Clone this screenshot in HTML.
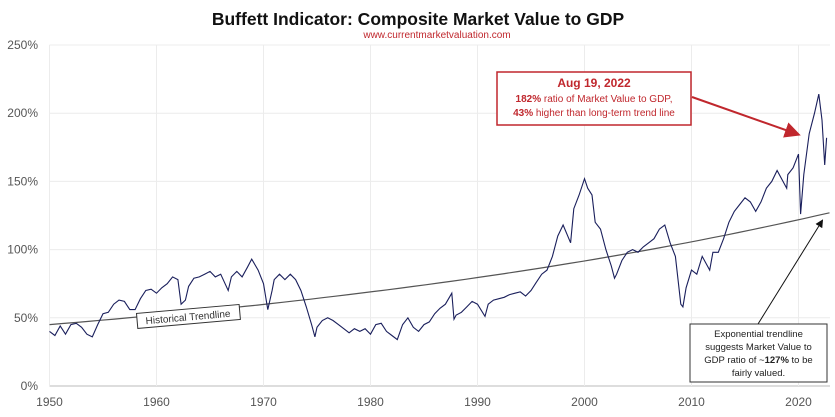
<!DOCTYPE html>
<html><head><meta charset="utf-8"><style>
html,body{margin:0;padding:0;background:#fff;}
svg{display:block;font-family:"Liberation Sans",sans-serif;}
</style></head><body>
<svg id="chart" width="835" height="417" viewBox="0 0 835 417">
<defs>
<marker id="ar" markerWidth="8" markerHeight="8" refX="6" refY="4" orient="auto"><path d="M0,0L8,4L0,8z" fill="#c0272d"/></marker>
<marker id="ak" markerWidth="8" markerHeight="8" refX="6" refY="4" orient="auto"><path d="M0,0L8,4L0,8z" fill="#111"/></marker>
</defs>
<text x="418" y="25" text-anchor="middle" font-size="17.5" font-weight="bold" fill="#111">Buffett Indicator: Composite Market Value to GDP</text>
<text x="437" y="38" text-anchor="middle" font-size="10" fill="#c0272d">www.currentmarketvaluation.com</text>
<g id="grid"></g>
<g id="axes"></g>
<path id="trend" fill="none" stroke="#555" stroke-width="1.2"/>
<path id="series" fill="none" stroke="#1a1f5c" stroke-width="1.1"/>
<g transform="rotate(-5 188 317)">
<rect x="137" y="309" width="103" height="15" fill="#fff" stroke="#333" stroke-width="1"/>
<text x="188" y="320.5" text-anchor="middle" font-size="10" fill="#333">Historical Trendline</text>
</g>
<g>
<rect x="497" y="72" width="194" height="53" fill="#fff" stroke="#c0272d" stroke-width="1.5"/>
<text x="594" y="87" text-anchor="middle" font-size="12" font-weight="bold" fill="#c0272d">Aug 19, 2022</text>
<text x="594" y="102" text-anchor="middle" font-size="10" fill="#c0272d"><tspan font-weight="bold">182%</tspan> ratio of Market Value to GDP,</text>
<text x="594" y="116" text-anchor="middle" font-size="10" fill="#c0272d"><tspan font-weight="bold">43%</tspan> higher than long-term trend line</text>
<line x1="692" y1="97" x2="797" y2="134" stroke="#c0272d" stroke-width="2" marker-end="url(#ar)"/>
</g>
<g>
<line x1="758" y1="324" x2="822" y2="221" stroke="#111" stroke-width="1" marker-end="url(#ak)"/>
<rect x="690" y="324" width="137" height="58" fill="#fff" stroke="#333" stroke-width="1"/>
<text x="758.5" y="337" text-anchor="middle" font-size="9.5" fill="#222">Exponential trendline</text>
<text x="758.5" y="350" text-anchor="middle" font-size="9.5" fill="#222">suggests Market Value to</text>
<text x="758.5" y="363" text-anchor="middle" font-size="9.5" fill="#222">GDP ratio of ~<tspan font-weight="bold">127%</tspan> to be</text>
<text x="758.5" y="376" text-anchor="middle" font-size="9.5" fill="#222">fairly valued.</text>
</g>
</svg>
<script>
const years=[1950,1950.5,1951,1951.5,1952,1952.5,1953,1953.5,1954,1954.5,1955,1955.5,1956,1956.5,1957,1957.5,1958,1958.5,1959,1959.5,1960,1960.5,1961,1961.5,1962,1962.3,1962.7,1963,1963.5,1964,1964.5,1965,1965.5,1966,1966.7,1967,1967.5,1968,1968.5,1968.9,1969.5,1970,1970.4,1970.8,1971,1971.5,1972,1972.5,1973,1973.5,1974,1974.5,1974.8,1975,1975.5,1976,1976.5,1977,1977.5,1978,1978.5,1979,1979.5,1980,1980.5,1981,1981.5,1982,1982.5,1983,1983.5,1984,1984.5,1985,1985.5,1986,1986.5,1987,1987.6,1987.8,1988,1988.5,1989,1989.5,1990,1990.7,1991,1991.5,1992,1992.5,1993,1993.5,1994,1994.5,1995,1995.5,1996,1996.5,1997,1997.5,1998,1998.7,1999,1999.5,2000,2000.3,2000.7,2001,2001.5,2002,2002.5,2002.8,2003,2003.5,2004,2004.5,2005,2005.5,2006,2006.5,2007,2007.5,2008,2008.5,2009,2009.2,2009.5,2010,2010.5,2011,2011.7,2012,2012.5,2013,2013.5,2014,2014.5,2015,2015.5,2016,2016.5,2017,2017.5,2018,2018.9,2019,2019.5,2020,2020.2,2020.5,2021,2021.5,2021.9,2022.2,2022.45,2022.63];
const ratios=[40,37,44,38,45,46,43,38,36,45,53,54,60,63,62,56,56,64,70,71,68,72,75,80,78,60,63,73,79,80,82,84,80,82,70,80,84,80,87,93,85,75,56,70,78,82,78,82,78,70,58,45,36,43,48,50,48,45,42,39,42,40,42,38,45,46,40,37,34,45,50,43,40,45,47,53,57,60,68,49,52,54,58,62,60,51,60,63,64,65,67,68,69,66,70,76,82,85,95,110,118,105,130,140,152,145,140,120,115,100,88,79,82,92,98,100,98,102,105,108,115,118,105,95,60,58,72,85,82,95,85,98,98,108,120,128,133,138,135,128,135,145,150,158,145,155,160,170,126,155,185,200,214,195,162,182];
const yTicks=[0,50,100,150,200,250];
const xTicks=[1950,1960,1970,1980,1990,2000,2010,2020];
const trendStart=45, trendEnd=127, trendYears=[1950,2022.9];
const X=y=>49.5+(y-1950)*10.7;
const Y=v=>386-v*1.364;
const NS='http://www.w3.org/2000/svg';
const grid=document.getElementById('grid'),axes=document.getElementById('axes');
function mk(tag,attrs,parent){const e=document.createElementNS(NS,tag);for(const k in attrs)e.setAttribute(k,attrs[k]);parent.appendChild(e);return e;}
yTicks.forEach(v=>{
 const l=mk('line',{x1:49.5,x2:830,y1:Y(v),y2:Y(v),stroke:v===0?'#bbb':'#ececec','stroke-width':1},grid);
 
 
 const t=mk('text',{x:38,y:Y(v)+4,'text-anchor':'end','font-size':12,fill:'#555'},axes);
 t.textContent=v+'%';
 
 
});
xTicks.forEach(v=>{
 const l=mk('line',{x1:X(v),x2:X(v),y1:Y(250),y2:Y(0),stroke:'#ececec','stroke-width':1},grid);
 
 
 const t=mk('text',{x:X(v),y:406,'text-anchor':'middle','font-size':12,fill:'#555'},axes);
 t.textContent=v;
 
 
});
document.getElementById('series').setAttribute('d',years.map((y,i)=>(i?'L':'M')+X(y).toFixed(1)+','+Y(ratios[i]).toFixed(1)).join(''));
const k=Math.log(trendEnd/trendStart)/(trendYears[1]-trendYears[0]);
let d='';for(let i=0;i<=60;i++){const yr=trendYears[0]+(trendYears[1]-trendYears[0])*i/60;d+=(i?'L':'M')+X(yr).toFixed(1)+','+Y(trendStart*Math.exp(k*(yr-trendYears[0]))).toFixed(1);}
document.getElementById('trend').setAttribute('d',d);
</script>
</body></html>
